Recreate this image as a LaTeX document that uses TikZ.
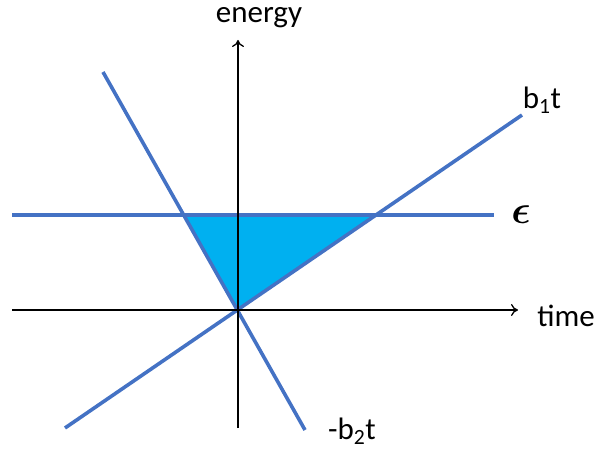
\documentclass[tikz,border=0pt]{standalone}
\usepackage{fontspec}
\setmainfont{Carlito}
\usepackage{bm}
\usetikzlibrary{arrows.meta}
\definecolor{lineblue}{HTML}{4472C4}
\definecolor{fillcyan}{HTML}{00B0F0}
\newcommand{\epsbig}{\scalebox{4}{$\bm{\epsilon}$}}
\begin{document}
\begin{tikzpicture}[x=1pt,y=-1pt,
  bline/.style={draw=lineblue,line width=3.6pt},
  axis/.style={draw=black,line width=1.3pt,-{To[length=7pt,width=12pt]}},
  lbl/.style={font={\fontsize{31}{34}\selectfont},inner sep=0pt}]
\useasboundingbox (0,0) rectangle (608,449);
% coordinates
\coordinate (O) at (238,310);
\coordinate (xL) at (12,310);
\coordinate (xR) at (518,310);
\coordinate (yB) at (238,428);
\coordinate (yT) at (238,40);
\coordinate (eL) at (12,215);
\coordinate (eR) at (494,215);
\coordinate (aL) at (65,428);
\coordinate (aR) at (522,115);
\coordinate (bT) at (103,72);
\coordinate (bB) at (305,430);
\coordinate (tA) at (183.5,215);
\coordinate (tB) at (376,215);
% triangle
\fill[fillcyan] (tA) -- (tB) -- (O) -- cycle;
% lines
\path[bline] (eL) -- (eR);
\path[bline] (aL) -- (aR);
\path[bline] (bT) -- (bB);
% axes
\draw[axis] (xL) -- (xR);
\draw[axis] (yB) -- (yT);
% labels
\node[lbl] (energy) at (259,18) {energy};
\node[lbl] (time) at (566,316) {time};
\node[lbl] (b1) at (542,100) {b\textsubscript{1}t};
\node[inner sep=0pt] (epsl) at (521,215) {\epsbig};
\node[lbl] (b2) at (352,431) {-b\textsubscript{2}t};
\end{tikzpicture}
\end{document}
